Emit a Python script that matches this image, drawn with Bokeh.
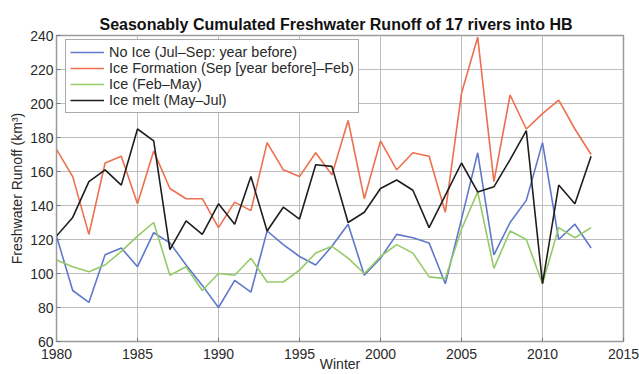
from bokeh.plotting import figure
from bokeh.models import Range1d, FixedTicker, Legend, LegendItem, ColumnDataSource
from bokeh.embed import file_html
from bokeh.resources import INLINE

# Winter seasons
years = list(range(1980, 2014))

# Seasonally cumulated runoff (km^3)
no_ice = [122, 90, 83, 111, 115, 104, 124, 118, 105, 93, 80, 96, 89, 125, 117, 110, 105,
          116, 129, 99, 109, 123, 121, 118, 94, 132, 171, 111, 130, 143, 177, 120, 129, 115]
ice_formation = [173, 157, 123, 165, 169, 141, 172, 150, 144, 144, 127, 142, 137, 177, 161,
                 157, 171, 158, 190, 144, 178, 161, 171, 169, 136, 206, 239, 154, 205, 185,
                 194, 202, 185, 170]
ice = [108, 104, 101, 105, 113, 122, 130, 99, 104, 90, 100, 99, 109, 95, 95, 102, 112, 116,
       109, 100, 110, 117, 112, 98, 97, 126, 148, 103, 125, 120, 94, 127, 121, 127]
ice_melt = [122, 133, 154, 161, 152, 185, 178, 114, 131, 123, 141, 129, 157, 125, 139, 132,
            164, 163, 130, 136, 150, 155, 149, 127, 146, 165, 148, 151, 167, 184, 94, 152,
            141, 169]

labels = ["No Ice (Jul\u2013Sep: year before)",
          "Ice Formation (Sep [year before]\u2013Feb)",
          "Ice (Feb\u2013May)",
          "Ice melt (May\u2013Jul)"]
colors = ["#5f78cc", "#ee6f4e", "#94cb68", "#1e1e1e"]

x_ticks = [1980, 1985, 1990, 1995, 2000, 2005, 2010, 2015]
y_ticks = [60, 80, 100, 120, 140, 160, 180, 200, 220, 240]

FONT = "Liberation Sans"
TEXT = "#2a2a2a"

p = figure(width=639, height=374, output_backend="svg", toolbar_location=None,
           x_range=Range1d(1980, 2015), y_range=Range1d(60, 240),
           min_border_left=56, min_border_right=16, min_border_top=35, min_border_bottom=33,
           title="Seasonably Cumulated Freshwater Runoff of 17 rivers into HB")

p.title.align = "left"
p.title.offset = 43
p.title.standoff = 6
p.title.text_font = FONT
p.title.text_font_size = "16px"
p.title.text_font_style = "bold"
p.title.text_color = "#111111"

p.background_fill_color = "white"
p.border_fill_color = "white"
p.outline_line_color = "#9a9a9a"
p.outline_line_width = 1.5

for ax in (p.xaxis[0], p.yaxis[0]):
    ax.axis_line_color = "#9a9a9a"
    ax.major_tick_in = 4
    ax.major_tick_out = 0
    ax.major_tick_line_color = "#777777"
    ax.minor_tick_line_color = None
    ax.major_label_text_font = FONT
    ax.major_label_text_font_size = "14px"
    ax.major_label_text_color = TEXT
    ax.axis_label_text_font = FONT
    ax.axis_label_text_font_size = "14px"
    ax.axis_label_text_font_style = "normal"
    ax.axis_label_text_color = TEXT

p.xaxis[0].ticker = FixedTicker(ticks=x_ticks)
p.yaxis[0].ticker = FixedTicker(ticks=y_ticks)
p.xaxis[0].axis_label = "Winter"
p.yaxis[0].axis_label = "Freshwater Runoff (km\u00b3)"
p.xaxis[0].major_label_standoff = 7
p.xaxis[0].axis_label_standoff = -6
p.yaxis[0].major_label_standoff = 3
p.yaxis[0].axis_label_standoff = 2

p.xgrid.ticker = FixedTicker(ticks=x_ticks)
p.ygrid.ticker = FixedTicker(ticks=y_ticks)
p.grid.grid_line_color = "#bdbdbd"
p.grid.grid_line_width = 1

series = [no_ice, ice_formation, ice, ice_melt]
items = []
for vals, lab, col in zip(series, labels, colors):
    src = ColumnDataSource(dict(year=years, value=vals))
    r = p.line("year", "value", source=src, line_color=col, line_width=1.6)
    items.append(LegendItem(label=lab, renderers=[r]))

legend = Legend(items=items, location=(9, 228))
legend.label_text_font = FONT
legend.label_text_font_size = "14.4px"
legend.label_text_color = TEXT
legend.glyph_width = 34
legend.glyph_height = 16
legend.label_height = 16
legend.label_standoff = 5
legend.spacing = 0
legend.padding = 4
legend.margin = 0
legend.border_line_color = "#555555"
legend.border_line_width = 1
legend.background_fill_color = "white"
legend.background_fill_alpha = 1.0
p.add_layout(legend)

open("out.html", "w").write(file_html(p, INLINE))
